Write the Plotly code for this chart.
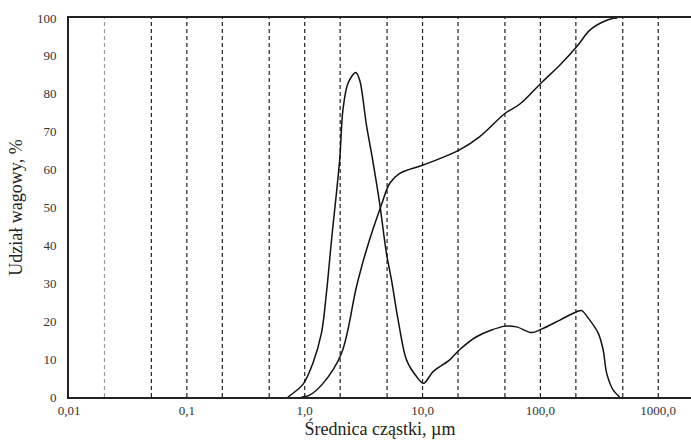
import plotly.graph_objects as go

# Frequency (differential) distribution
freq_x = [0.72, 0.97, 1.17, 1.39, 1.53, 1.69, 1.98, 2.11, 2.33, 2.71, 2.93, 3.34, 3.80, 4.33,
          4.94, 5.45, 6.21, 7.31, 8.89, 10.2, 12.3, 17.0, 20.5, 28.7, 50.0, 62.8, 84.2, 102.0,
          146.5, 203.0, 224.0, 255.0, 310.0, 341.0, 365.0, 415.0, 470.0]
freq_y = [0.0, 3.4, 8.8, 17.0, 27.5, 41.5, 62.5, 75.7, 82.8, 85.6, 83.6, 71.8, 62.0, 51.0,
          37.9, 30.9, 20.3, 9.8, 5.4, 3.6, 6.7, 9.8, 12.4, 15.9, 18.7, 18.5, 17.0, 17.9,
          20.3, 22.5, 22.8, 20.8, 16.8, 12.4, 6.3, 1.8, 0.0]

# Cumulative distribution
cum_x = [0.94, 1.10, 1.43, 2.05, 2.75, 3.34, 4.48, 5.27, 6.41, 10.1, 20.6, 30.6, 50.0,
         67.0, 101.0, 146.5, 203.0, 263.0, 341.0, 415.0, 450.0]
cum_y = [0.0, 0.5, 3.6, 11.5, 29.1, 38.8, 50.7, 56.4, 59.0, 61.2, 65.2, 68.7, 74.8,
         77.3, 82.8, 87.6, 92.4, 96.8, 99.0, 99.9, 100.0]

# Vertical dashed reference lines
grid_x = [0.02, 0.05, 0.1, 0.2, 0.5, 1, 2, 5, 10, 20, 50, 100, 200, 500, 1000]
x_tick_vals = [0.01, 0.1, 1, 10, 100, 1000]
x_tick_text = ["0,01", "0,1", "1,0", "10,0", "100,0", "1000,0"]
y_tick_vals = [0, 10, 20, 30, 40, 50, 60, 70, 80, 90, 100]

FONT = "Liberation Serif, Times New Roman, serif"

fig = go.Figure()

for gx in grid_x:
    fig.add_shape(type="line", xref="x", yref="y", x0=gx, x1=gx, y0=0, y1=100,
                  line=dict(color="#9a9a9a" if gx == 0.02 else "#222222", width=1.2, dash="4px,3px"),
                  layer="below")

fig.add_trace(go.Scatter(x=freq_x, y=freq_y, mode="lines",
                         line=dict(color="#111111", width=1.5, shape="spline", smoothing=0.9),
                         showlegend=False, hoverinfo="skip"))
fig.add_trace(go.Scatter(x=cum_x, y=cum_y, mode="lines",
                         line=dict(color="#111111", width=1.5, shape="spline", smoothing=1.0),
                         showlegend=False, hoverinfo="skip"))

fig.update_layout(
    width=691, height=443,
    margin=dict(l=69, r=0, t=18, b=46),
    paper_bgcolor="white", plot_bgcolor="white",
    font=dict(family=FONT, color="#222222", size=13),
    hovermode=False,
    xaxis=dict(type="log", range=[-2, 3.278], showgrid=False, zeroline=False,
               showline=True, linecolor="#222222", linewidth=2, mirror=True,
               tickvals=x_tick_vals, ticktext=x_tick_text, ticks="",
               tickfont=dict(family=FONT, size=13, color="#333333"),
               title=dict(text="Średnica cząstki, µm", font=dict(family=FONT, size=18, color="#222222"),
                          standoff=6)),
    yaxis=dict(range=[0, 100], showgrid=False, zeroline=False,
               showline=True, linecolor="#222222", linewidth=2,
               tickvals=y_tick_vals, ticks="", ticklabelstandoff=8,
               tickfont=dict(family=FONT, size=13, color="#333333"),
               title=dict(text="Udział wagowy, %", font=dict(family=FONT, size=18, color="#222222"),
                          standoff=10)),
)

fig.write_html("out.html")
